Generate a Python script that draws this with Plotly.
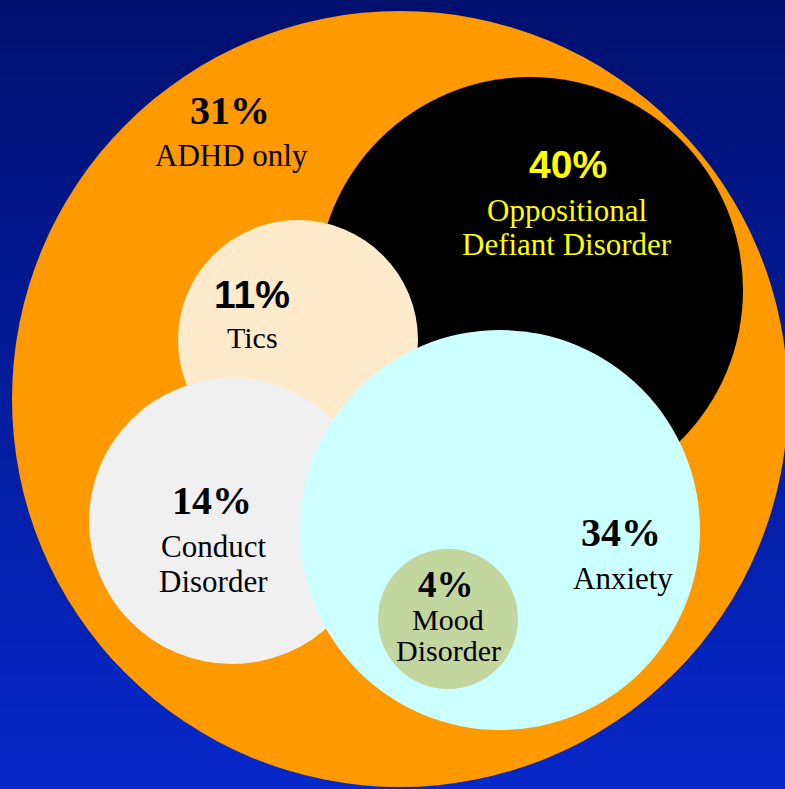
import plotly.graph_objects as go

# ---- data ----
groups = ["ADHD only", "Oppositional Defiant Disorder", "Tics", "Conduct Disorder", "Anxiety", "Mood Disorder"]
percents = [31, 40, 11, 14, 34, 4]
label_lines = [["ADHD only"], ["Oppositional", "Defiant Disorder"], ["Tics"], ["Conduct", "Disorder"], ["Anxiety"], ["Mood", "Disorder"]]

# ---- layout geometry (pixel space) and styles ----
W, H = 785, 789
circles = [  # cx, cy, r
    (400, 399, 388),
    (530, 290, 213),
    (298, 340, 120),
    (232, 521, 143),
    (500, 530, 200),
    (448, 619, 70),
]
fills = ["#FF9900", "#000000", "#FFEACC", "#F0F0F0", "#CCFFFF", "#C4D6A0"]
text_colors = ["#000000", "#FFFF00", "#000000", "#000000", "#000000", "#000000"]
pct_fonts = ["Liberation Serif", "Liberation Sans", "Liberation Sans", "Liberation Serif", "Liberation Serif", "Liberation Serif"]
pct_pos = [(230, 110), (568, 164), (252, 294), (212, 500), (621, 532), (446, 584)]
line_pos = [[(231, 155)], [(567, 210), (567, 244)], [(252, 337)], [(213, 546), (213, 581)], [(623, 578)], [(448, 619), (448, 650)]]
pct_sizes = [40, 39, 39, 40, 40, 37]
line_sizes = [31, 31, 30, 31, 31, 30]

fig = go.Figure()

# gradient background
fig.add_trace(go.Heatmap(
    x=[0, W], y=[0, H], z=[[0, 0], [1, 1]], zsmooth="best",
    colorscale=[[0, "#00106F"], [1, "#0628C9"]], showscale=False, hoverinfo="skip",
))

shapes = []
for (cx, cy, r), col in zip(circles, fills):
    shapes.append(dict(type="circle", xref="x", yref="y",
                       x0=cx - r, x1=cx + r, y0=cy - r, y1=cy + r,
                       fillcolor=col, line=dict(width=0), layer="above"))

annotations = []
for i, p in enumerate(percents):
    x, y = pct_pos[i]
    annotations.append(dict(x=x, y=y, xref="x", yref="y", text=f"<b>{p}%</b>",
                            showarrow=False, xanchor="center", yanchor="middle",
                            font=dict(family=pct_fonts[i], size=pct_sizes[i], color=text_colors[i])))
    for line, (lx, ly) in zip(label_lines[i], line_pos[i]):
        annotations.append(dict(x=lx, y=ly, xref="x", yref="y", text=line,
                                showarrow=False, xanchor="center", yanchor="middle",
                                font=dict(family="Liberation Serif", size=line_sizes[i], color=text_colors[i])))

fig.update_layout(
    width=W, height=H, margin=dict(l=0, r=0, t=0, b=0),
    xaxis=dict(range=[0, W], visible=False, fixedrange=True),
    yaxis=dict(range=[H, 0], visible=False, fixedrange=True),
    shapes=shapes, annotations=annotations,
    showlegend=False, plot_bgcolor="#00106F", paper_bgcolor="#00106F",
)

fig.write_html("out.html")
